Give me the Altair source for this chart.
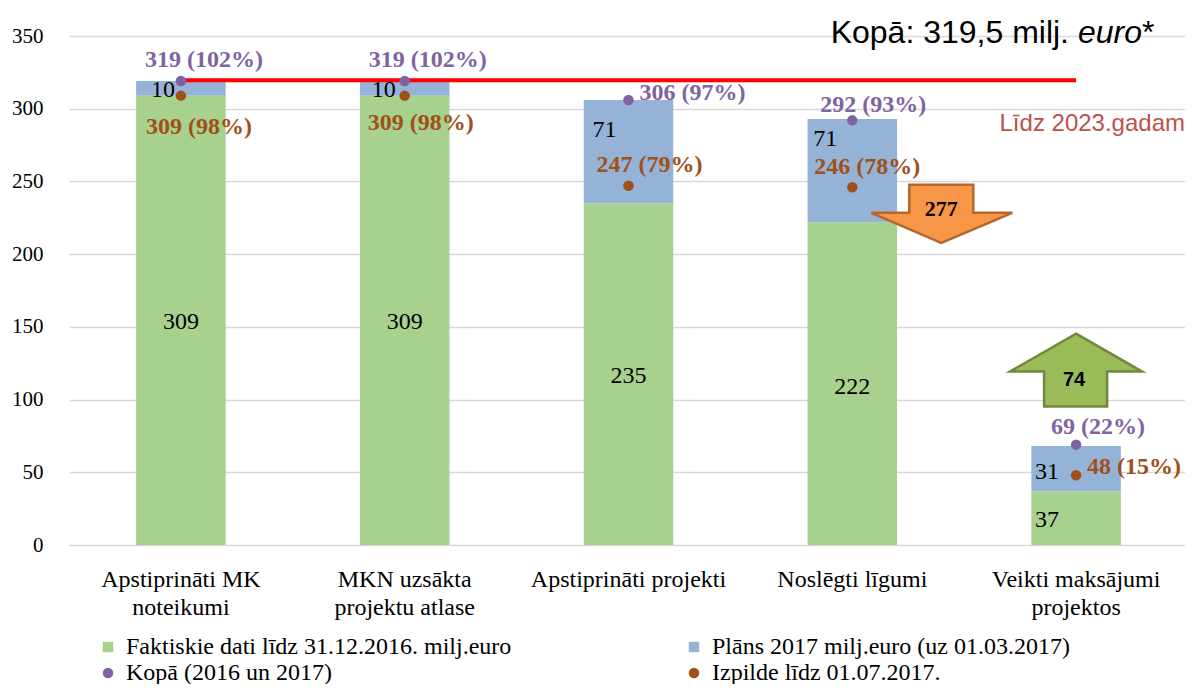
import altair as alt
import pandas as pd

# ---------------- data ----------------
categories = [
    "Apstiprināti MK\nnoteikumi",
    "MKN uzsākta\nprojektu atlase",
    "Apstiprināti projekti",
    "Noslēgti līgumi",
    "Veikti maksājumi\nprojektos",
]
series = [
    "Faktiskie dati līdz 31.12.2016. milj.euro",
    "Plāns 2017 milj.euro (uz 01.03.2017)",
    "Kopā (2016 un 2017)",
    "Izpilde līdz 01.07.2017.",
]
faktiskie = [309, 309, 235, 222, 37]
plans = [10, 10, 71, 71, 31]
kopa = [319, 319, 306, 292, 69]
kopa_pct = [102, 102, 97, 93, 22]
izpilde = [309, 309, 247, 246, 48]
izpilde_pct = [98, 98, 79, 78, 15]
kopa_total = 319.5
arrow_values = [277, 74]
arrow_categories = [categories[3], categories[4]]
title_parts = ["Kopā: 319,5 milj.", "euro", "*"]
target_note = "Līdz 2023.gadam"

# ---------------- styles / layout ----------------
colors = ["#A9D18E", "#95B3D7", "#8064A2", "#A0501A"]
shapes = ["square", "square", "circle", "circle"]
sizes = [110, 110, 50, 50]
SERIF = "Liberation Serif"
SANS = "Liberation Sans"
fakt_dx = [0, 0, 0, 0, -29]
fakt_dy = [2, 2, 2, 3, 2]
plans_dx = [-18, -21, -24, -27, -29]
plans_dy = [2, 2, -22, -32, 3]
kopa_dx = [23, 23, 64, 21, 22]
kopa_dy = [-21, -21, -7, -15, -18]
izp_dx = [18, 16, 21, 15, 58]
izp_dy = [31, 27, -21, -20, -8]
arrow_anchor = [225, 100]

ORANGE_ARROW = "M57,-33 L121,-33 L121,-5 L160,-5 L89,25 L19,-5 L57,-5 Z"
GREEN_ARROW = "M0,-66 L66,-28 L31,-28 L31,7 L-32,7 L-32,-28 L-66,-28 Z"


def X(axis=None):
    kw = dict(
        scale=alt.Scale(domain=categories, range=[0, 1119], paddingInner=0.6, paddingOuter=0.3),
        title=None,
    )
    if axis is not None:
        kw["axis"] = axis
    return alt.X("cat:N", **kw)


def Y(axis=None, stack=None):
    kw = dict(scale=alt.Scale(domain=[0, 350], nice=False, zero=True), title=None)
    if axis is not None:
        kw["axis"] = axis
    if stack is not None:
        kw["stack"] = stack
    return alt.Y("y:Q", **kw)


color_scale = alt.Scale(domain=series, range=colors)
legend = alt.Legend(
    title=None,
    orient="none",
    direction="horizontal",
    legendX=27,
    legendY=599,
    columns=2,
    columnPadding=170,
    rowPadding=2,
    symbolStrokeWidth=0,
    symbolOpacity=1,
    labelFont=SERIF,
    labelFontSize=24,
    labelColor="#000000",
    labelOffset=6,
    labelLimit=700,
)

# ---------------- bars ----------------
bar_rows = []
for i, c in enumerate(categories):
    bar_rows.append({"cat": c, "series": series[0], "y": faktiskie[i], "ord": 0})
    bar_rows.append({"cat": c, "series": series[1], "y": plans[i], "ord": 1})
bar_df = pd.DataFrame(bar_rows)

bars = alt.Chart(bar_df).mark_bar().encode(
    x=X(axis=alt.Axis(labelExpr="split(datum.label, '\\n')", labelAngle=0)),
    y=Y(axis=alt.Axis(values=[0, 50, 100, 150, 200, 250, 300, 350]), stack="zero"),
    color=alt.Color("series:N", scale=color_scale, legend=legend),
    order=alt.Order("ord:Q"),
)

# ---------------- red total line ----------------
line_df = pd.DataFrame({"cat": [categories[0], categories[-1]], "y": [kopa_total, kopa_total]})
red_line = alt.Chart(line_df).mark_line(color="#FF0000", strokeWidth=4).encode(x=X(), y=Y())

# ---------------- dots ----------------
pts_df = pd.concat([
    pd.DataFrame({"cat": categories, "y": kopa, "series": series[2]}),
    pd.DataFrame({"cat": categories, "y": izpilde, "series": series[3]}),
])
points = alt.Chart(pts_df).mark_point(filled=True, opacity=1).encode(
    x=X(),
    y=Y(),
    color=alt.Color("series:N", scale=color_scale, legend=legend),
    shape=alt.Shape("series:N", scale=alt.Scale(domain=series, range=shapes), legend=legend),
    size=alt.Size("series:N", scale=alt.Scale(domain=series, range=sizes), legend=legend),
)


# ---------------- labels ----------------
def label(cat, yv, text, color, dx, dy, bold, font=SERIF, size=24):
    df = pd.DataFrame({"cat": [cat], "y": [yv], "t": [text]})
    return alt.Chart(df).mark_text(
        dx=dx, dy=dy, color=color, font=font, fontSize=size,
        fontWeight="bold" if bold else "normal", align="center", baseline="middle",
    ).encode(x=X(), y=Y(), text="t:N")


labels = []
for i, c in enumerate(categories):
    labels.append(label(c, faktiskie[i] / 2, str(faktiskie[i]), "#000000", fakt_dx[i], fakt_dy[i], False))
    labels.append(label(c, faktiskie[i] + plans[i] / 2, str(plans[i]), "#000000", plans_dx[i], plans_dy[i], False))
    labels.append(label(c, kopa[i], f"{kopa[i]} ({kopa_pct[i]}%)", colors[2], kopa_dx[i], kopa_dy[i], True))
    labels.append(label(c, izpilde[i], f"{izpilde[i]} ({izpilde_pct[i]}%)", colors[3], izp_dx[i], izp_dy[i], True))

# ---------------- arrows ----------------
orange_df = pd.DataFrame({"cat": [arrow_categories[0]], "y": [arrow_anchor[0]]})
green_df = pd.DataFrame({"cat": [arrow_categories[1]], "y": [arrow_anchor[1]]})
orange_arrow = alt.Chart(orange_df).mark_point(
    shape=ORANGE_ARROW, size=4, filled=True, fill="#F79646", stroke="#B5672C", strokeWidth=2.5, opacity=1
).encode(x=X(), y=Y())
green_arrow = alt.Chart(green_df).mark_point(
    shape=GREEN_ARROW, size=4, filled=True, fill="#9BBB59", stroke="#71893F", strokeWidth=2.5, opacity=1
).encode(x=X(), y=Y())
arrow_txt1 = label(arrow_categories[0], arrow_anchor[0], str(arrow_values[0]), "#000000", 89, -9, True, SERIF, 22)
arrow_txt2 = label(arrow_categories[1], arrow_anchor[1], str(arrow_values[1]), "#000000", -2, -20, True, SANS, 20)


# ---------------- annotations ----------------
def note(text, x, y, align, color="#000000", size=32, font=SANS, style="normal"):
    return alt.Chart(pd.DataFrame({"t": [text]})).mark_text(
        align=align, baseline="middle", color=color, fontSize=size, font=font, fontStyle=style
    ).encode(x=alt.value(x), y=alt.value(y), text="t:N")


notes = [
    note(title_parts[0], 1000, -3, "right"),
    note(title_parts[1], 1009, -3, "left", style="italic"),
    note(title_parts[2], 1073, -3, "left"),
    note(target_note, 1116, 88, "right", color="#C0504D", size=24),
]

chart = alt.layer(
    bars, red_line, orange_arrow, green_arrow, points, *labels, arrow_txt1, arrow_txt2, *notes
).properties(
    width=1116,
    height=509,
    autosize=alt.AutoSizeParams(type="none"),
    padding={"left": 61, "top": 28, "right": 0, "bottom": 139},
    background="#FFFFFF",
).configure_view(stroke=None).configure_axis(
    domain=False, ticks=False, labelFont=SERIF, labelColor="#000000", gridColor="#D9D9D9", gridWidth=1.3
).configure_axisX(
    grid=False, labelFontSize=24, labelPadding=22, labelLineHeight=28, labelLimit=400, labelAngle=0
).configure_axisY(
    grid=True, labelFontSize=21, labelPadding=26
)

chart.save("out.html", embed_options={"renderer": "svg", "actions": False})
